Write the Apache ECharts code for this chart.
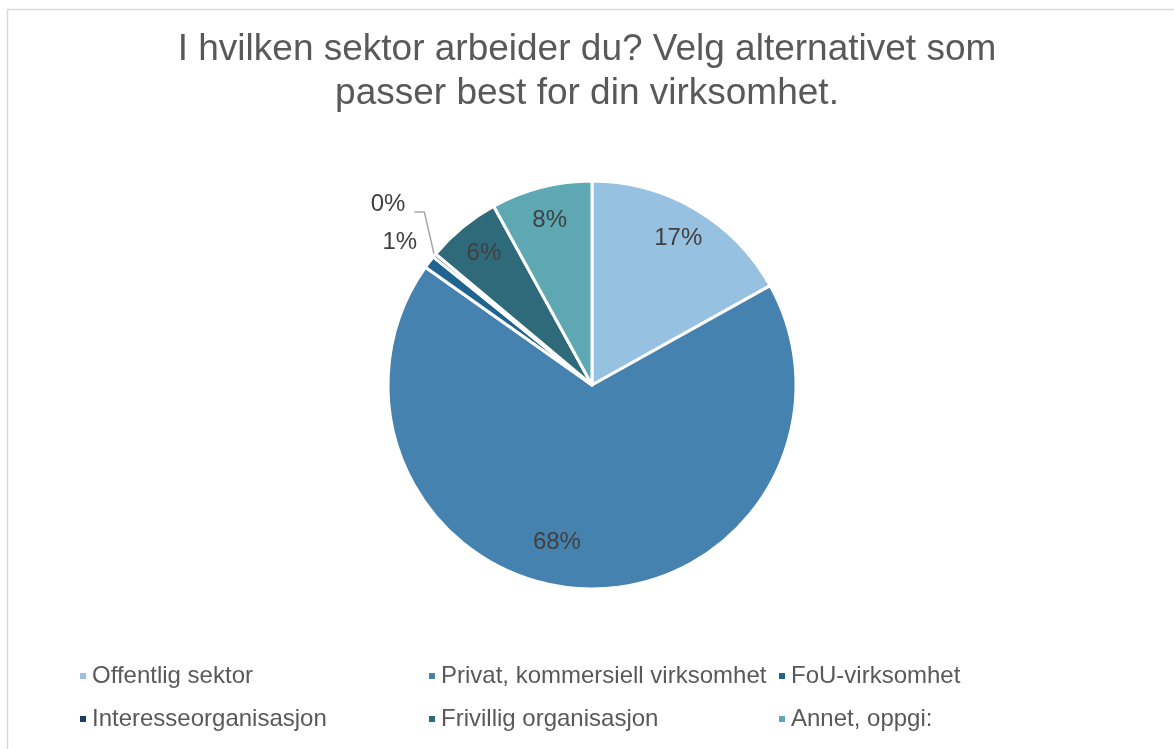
<!DOCTYPE html>
<html><head><meta charset="utf-8">
<script src="https://cdn.jsdelivr.net/npm/echarts@6/dist/echarts.min.js"></script>
<style>html,body{margin:0;padding:0;background:#fff}#c{width:1174px;height:749px}</style>
</head><body><div id="c"></div>
<script>
const titleText = "I hvilken sektor arbeider du? Velg alternativet som\npasser best for din virksomhet.";
const categories = ["Offentlig sektor", "Privat, kommersiell virksomhet", "FoU-virksomhet", "Interesseorganisasjon", "Frivillig organisasjon", "Annet, oppgi:"];
const values = [16.9, 67.9, 1.0, 0.3, 5.9, 8.0];
const colors = ["#97C1E1", "#4682B0", "#1F6391", "#193F5E", "#2F6A7A", "#5EA8B4"];
const outsideLabels = ["FoU-virksomhet", "Interesseorganisasjon"];

const font = "'Liberation Sans', Arial, sans-serif";
const center = [592, 385];
const R = 204;

const total = values.reduce((a, b) => a + b, 0);
const pct = v => Math.round(v / total * 100) + '%';

const mainData = categories.map((name, i) => {
  const d = { name, value: values[i], itemStyle: { color: colors[i] } };
  if (outsideLabels.includes(name)) {
    const isZero = name === "Interesseorganisasjon";
    d.label = { show: true, position: 'outside', formatter: () => pct(values[i]), color: '#404040', fontSize: 24, fontFamily: font, distanceToLabelLine: isZero ? 8 : 2 };
    d.labelLine = { show: isZero, length: isZero ? 48 : 24, length2: isZero ? 8 : 2, smooth: false, lineStyle: { color: '#A6A6A6', width: 1.5 } };
  } else {
    d.label = { show: false };
    d.labelLine = { show: false };
  }
  return d;
});

const ringData = categories.map((name, i) => {
  const d = { name, value: values[i], label: { show: !outsideLabels.includes(name) } };
  if (name === "Privat, kommersiell virksomhet") d.label.offset = [-26, -13];
  return d;
});

// column / row positions for legend items
const legendCols = [78, 427, 777];
const legendRows = [664, 707];
const legends = categories.map((name, i) => ({
  data: [name],
  left: legendCols[i % 3],
  top: legendRows[Math.floor(i / 3)],
  padding: 0,
  icon: 'rect',
  itemWidth: 8,
  itemHeight: 8,
  itemGap: 0,
  selectedMode: false,
  textStyle: { color: '#595959', fontSize: 24, fontFamily: font }
}));

const chart = echarts.init(document.getElementById('c'), null, { renderer: 'canvas' });
chart.setOption({
  backgroundColor: '#fff',
  animation: false,
  color: colors,
  graphic: [{
    type: 'rect', left: 5, top: 7, silent: true,
    shape: { width: 1190, height: 770 },
    style: { fill: 'none', stroke: '#D9D9D9', lineWidth: 1.5 }
  }],
  title: {
    text: titleText,
    left: 'center',
    top: 23,
    padding: [5, 0, 5, 12],
    textStyle: { color: '#595959', fontSize: 37, fontWeight: 'normal', fontFamily: font, lineHeight: 44 }
  },
  legend: legends,
  series: [{
    type: 'pie',
    center: center,
    radius: [0, R],
    startAngle: 90,
    clockwise: true,
    avoidLabelOverlap: false,
    minShowLabelAngle: 0,
    labelLayout: function (p) {
      const name = categories[p.dataIndex];
      const r = p.labelRect;
      if (name === "Interesseorganisasjon") {
        const dx = 24, dy = -21;
        const right = r.x + r.width + dx;
        const ly = r.y + r.height / 2 + dy + 8;
        const pts = p.labelLinePoints || [];
        const start = pts.length ? pts[0] : [right + 21, ly + 42];
        return {
          dx, dy, hideOverlap: false,
          labelLinePoints: [start, [right + 19, ly], [right + 9, ly]]
        };
      }
      if (name === "FoU-virksomhet") return { dx: 11, dy: -5, hideOverlap: false };
      return { hideOverlap: false };
    },
    itemStyle: { borderColor: '#fff', borderWidth: 3 },
    emphasis: { disabled: true },
    data: mainData
  }, {
    type: 'pie',
    center: center,
    radius: [R * 0.64, R],
    startAngle: 90,
    clockwise: true,
    silent: true,
    avoidLabelOverlap: false,
    itemStyle: { color: 'rgba(0,0,0,0)', borderWidth: 0 },
    label: { position: 'inside', formatter: p => pct(p.value), color: '#404040', fontSize: 24, fontFamily: font },
    labelLine: { show: false },
    emphasis: { disabled: true },
    data: ringData
  }]
});
</script>
</body></html>
